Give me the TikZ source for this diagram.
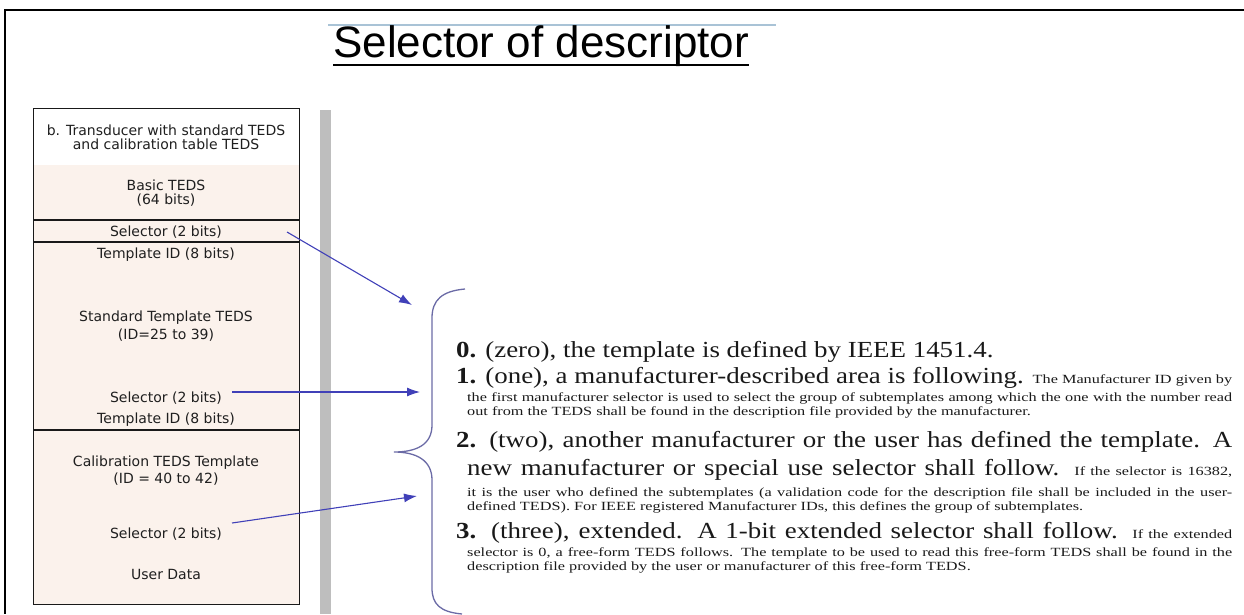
\documentclass[tikz,border=0pt]{standalone}
\usepackage{fontspec}
\setmainfont{Liberation Serif}
\newfontfamily\titlefont{Liberation Sans}
\newfontfamily\boxfont{DejaVu Sans}
\newfontfamily\bigserif[FakeStretch=1.17]{Liberation Serif}
\newfontfamily\smallserif[FakeStretch=1.3]{Liberation Serif}
\usetikzlibrary{arrows.meta}

\definecolor{arrowblue}{HTML}{4040B8}
\definecolor{bracecol}{HTML}{6B6BA6}
\definecolor{boxfill}{HTML}{FBF2EC}
\definecolor{barcol}{HTML}{BEBEBE}
\definecolor{rulecol}{HTML}{A9C3D6}

\newcommand\bigtxt{\bigserif\fontsize{23}{26}\selectfont}
\newcommand\smalltxt{\smallserif\fontsize{12.5}{14}\selectfont}

\tikzset{
  boxtext/.style={font=\boxfont\fontsize{14}{16}\selectfont, text=black!88, inner sep=0pt, anchor=center},
  textline/.style={anchor=base west, inner sep=0pt, text=black!90},
  selarrow/.style={draw=arrowblue, line width=1.1pt, -{Latex[length=13pt,width=9pt]}},
}

\begin{document}
\begin{tikzpicture}[x=1pt,y=-1pt]
\useasboundingbox (0,0) rectangle (1244,614);

% page frame
\draw[line width=2.5pt] (1244,10) -- (5,10) -- (5,614);

% title with rule above and underline
\draw[rulecol, line width=2pt] (328,25) -- (776,25);
\node[textline, text=black, font=\titlefont\fontsize{44}{44}\selectfont] (title) at (333,57) {Selector of descriptor};
\draw[line width=2pt] ([yshift=-8pt]title.base west) -- ([yshift=-8pt]title.base east);

% grey separator bar
\fill[barcol] (320,110) rectangle (331,614);

% TEDS layout box
\fill[boxfill] (33,165) rectangle (299,604);
\node[draw=black!90, line width=1.3pt, minimum width=266pt, minimum height=496pt, anchor=north west, inner sep=0pt] (box) at (33,108) {};
\draw[black!90, line width=1.2pt] (33,220) -- (299,220);
\draw[black!90, line width=1.2pt] (33,242) -- (299,242);
\draw[black!90, line width=1.2pt] (33,430) -- (299,430);

\node[boxtext] (hdr1) at (166,130) {b. Transducer with standard TEDS};
\node[boxtext] (hdr2) at (166,144) {and calibration table TEDS};
\node[boxtext] (basic1) at (166,185) {Basic TEDS};
\node[boxtext] (basic2) at (166,200) {(64 bits)};
\node[boxtext] (sel1) at (166,232) {Selector (2 bits)};
\node[boxtext] (tid1) at (166,255) {Template ID (8 bits)};
\node[boxtext] (std1) at (166,318) {Standard Template TEDS};
\node[boxtext] (std2) at (166,335) {(ID=25 to 39)};
\node[boxtext] (sel2) at (166,398) {Selector (2 bits)};
\node[boxtext] (tid2) at (166,420) {Template ID (8 bits)};
\node[boxtext] (cal1) at (166,463) {Calibration TEDS Template};
\node[boxtext] (cal2) at (166,479) {(ID = 40 to 42)};
\node[boxtext] (sel3) at (166,534) {Selector (2 bits)};
\node[boxtext] (udata) at (166,574) {User Data};

% selector arrows
\coordinate (a1s) at (287,232);
\coordinate (a1e) at (412,305);
\coordinate (a2s) at (232,392);
\coordinate (a2e) at (420,392);
\coordinate (a3s) at (232,523);
\coordinate (a3e) at (417,496);
\draw[selarrow] (a1s) -- (a1e);
\draw[selarrow] (a2s) -- (a2e);
\draw[selarrow] (a3s) -- (a3e);

% curly brace
\draw[bracecol, line width=1.3pt]
  (465,289) .. controls (442,291) and (432,300) .. (432,318)
  -- (432,425) .. controls (432,445) and (416,452) .. (394,452)
  .. controls (416,452) and (432,460) .. (432,480)
  -- (432,588) .. controls (432,604) and (440,612) .. (462,614);

% selector values
\node[textline] (l0) at (456,357) {\bigtxt\textbf{0.} (zero), the template is defined by IEEE 1451.4.};
\node[textline] (l1) at (456,383) {\makebox[776pt][s]{\bigtxt\textbf{1.} (one), a manufacturer-described area is following. \smalltxt The Manufacturer ID given by}};
\node[textline] (l1b) at (467,401) {\makebox[765pt][s]{\smalltxt the first manufacturer selector is used to select the group of subtemplates among which the one with the number read}};
\node[textline] (l1c) at (467,415) {\smalltxt out from the TEDS shall be found in the description file provided by the manufacturer.};
\node[textline] (l2) at (456,447) {\makebox[776pt][s]{\bigtxt\textbf{2.} (two), another manufacturer or the user has defined the template. A}};
\node[textline] (l2b) at (467,475) {\makebox[765pt][s]{\bigtxt new manufacturer or special use selector shall follow. \smalltxt If the selector is 16382,}};
\node[textline] (l2c) at (467,496) {\makebox[765pt][s]{\smalltxt it is the user who defined the subtemplates (a validation code for the description file shall be included in the user-}};
\node[textline] (l2d) at (467,510) {\smalltxt defined TEDS). For IEEE registered Manufacturer IDs, this defines the group of subtemplates.};
\node[textline] (l3) at (456,538) {\makebox[776pt][s]{\bigtxt\textbf{3.} (three), extended. A 1-bit extended selector shall follow. \smalltxt If the extended}};
\node[textline] (l3b) at (467,556) {\makebox[765pt][s]{\smalltxt selector is 0, a free-form TEDS follows. The template to be used to read this free-form TEDS shall be found in the}};
\node[textline] (l3c) at (467,570) {\smalltxt description file provided by the user or manufacturer of this free-form TEDS.};
\end{tikzpicture}
\end{document}
